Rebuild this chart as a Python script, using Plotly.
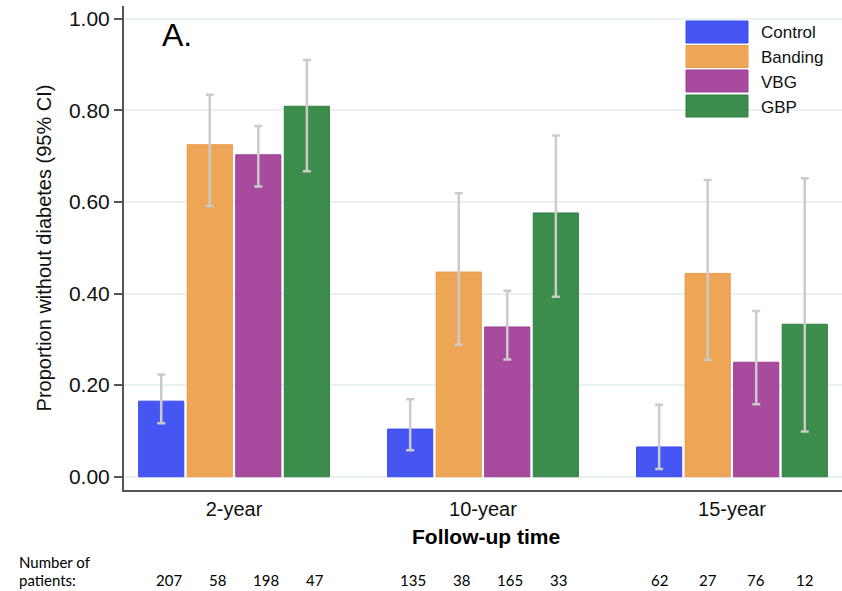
import plotly.graph_objects as go

# Follow-up periods and surgical groups
periods = ["2-year", "10-year", "15-year"]
groups = ["Control", "Banding", "VBG", "GBP"]

# Proportion without diabetes per group, one list per group across periods
control = [0.165, 0.104, 0.065]
banding = [0.725, 0.447, 0.444]
vbg = [0.703, 0.327, 0.250]
gbp = [0.809, 0.576, 0.333]

# 95% CI bounds
control_lo = [0.117, 0.058, 0.017]
control_hi = [0.223, 0.169, 0.157]
banding_lo = [0.591, 0.288, 0.255]
banding_hi = [0.834, 0.619, 0.648]
vbg_lo = [0.634, 0.256, 0.158]
vbg_hi = [0.766, 0.406, 0.362]
gbp_lo = [0.667, 0.393, 0.099]
gbp_hi = [0.910, 0.745, 0.652]

# Number of patients per group and period
control_n = [207, 135, 62]
banding_n = [58, 38, 27]
vbg_n = [198, 165, 76]
gbp_n = [47, 33, 12]

values = [control, banding, vbg, gbp]
lows = [control_lo, banding_lo, vbg_lo, gbp_lo]
highs = [control_hi, banding_hi, vbg_hi, gbp_hi]
counts = [control_n, banding_n, vbg_n, gbp_n]

fills = ["#4656f2", "#eea555", "#a84a9e", "#3c8c4b"]
edges = ["#3a4cee", "#e89c4c", "#9a3f92", "#2f8240"]

W, H = 842, 591
L, R, T, B = 124, 0, 6, 101
YMIN, YMAX = -0.029, 1.028
BARGAP, GROUPGAP = 0.22, 0.07

fig = go.Figure()
for name, vals, lo, hi, fc, ec in zip(groups, values, lows, highs, fills, edges):
    fig.add_trace(go.Bar(
        x=periods, y=vals, name=name,
        marker=dict(color=fc, line=dict(color=ec, width=1)),
        error_y=dict(type="data", symmetric=False,
                     array=[h - v for h, v in zip(hi, vals)],
                     arrayminus=[v - l for l, v in zip(lo, vals)],
                     color="#cbcbcb", thickness=2.5, width=4),
        showlegend=False,
    ))

def px_to_paper_x(px):
    return (px - L) / (W - L - R)

def px_to_paper_y(py):
    return (H - B - py) / (H - T - B)

annotations = []
shapes = []

# Panel label
annotations.append(dict(text="A.", xref="paper", yref="paper",
                        x=px_to_paper_x(160), y=px_to_paper_y(35),
                        xanchor="left", yanchor="middle", showarrow=False,
                        font=dict(family="Liberation Sans, Arial", size=32, color="#000")))

# Legend with wide colour swatches
sw_x0, sw_x1 = 686, 748
row_top = [21, 45.5, 70, 95]
for name, fc, ec, top in zip(groups, fills, edges, row_top):
    shapes.append(dict(type="rect", xref="paper", yref="paper",
                       x0=px_to_paper_x(sw_x0), x1=px_to_paper_x(sw_x1),
                       y0=px_to_paper_y(top), y1=px_to_paper_y(top + 22),
                       fillcolor=fc, line=dict(color=ec, width=1)))
    annotations.append(dict(text=name, xref="paper", yref="paper",
                            x=px_to_paper_x(759), y=px_to_paper_y(top + 12),
                            xanchor="left", yanchor="middle", showarrow=False,
                            font=dict(family="Liberation Sans, Arial", size=17, color="#111")))

# Axis title under the period labels
annotations.append(dict(text="<b>Follow-up time</b>", xref="paper", yref="paper",
                        x=px_to_paper_x(486), y=px_to_paper_y(536),
                        xanchor="center", yanchor="middle", showarrow=False,
                        font=dict(family="Liberation Sans, Arial", size=21, color="#000")))

# Patient count row
slot = (1 - BARGAP) / len(groups)
cnt_font = dict(family="Lato, Open Sans", size=15, color="#000")
count_shift = [8, 3, 0]
annotations.append(dict(text="Number of", xref="paper", yref="paper",
                        x=px_to_paper_x(17), y=px_to_paper_y(562),
                        xanchor="left", yanchor="middle", showarrow=False, font=cnt_font))
annotations.append(dict(text="patients:", xref="paper", yref="paper",
                        x=px_to_paper_x(17), y=px_to_paper_y(580),
                        xanchor="left", yanchor="middle", showarrow=False, font=cnt_font))
for gi, ns in enumerate(counts):
    for pi, n in enumerate(ns):
        annotations.append(dict(text=str(n), xref="x", yref="paper",
                                x=pi + (gi - (len(groups) - 1) / 2) * slot,
                                xshift=count_shift[pi],
                                y=px_to_paper_y(580),
                                xanchor="center", yanchor="middle", showarrow=False,
                                font=cnt_font))

fig.update_layout(
    width=W, height=H,
    margin=dict(l=L, r=R, t=T, b=B, pad=0),
    paper_bgcolor="white", plot_bgcolor="white",
    barmode="group", bargap=BARGAP, bargroupgap=GROUPGAP,
    font=dict(family="Liberation Sans, Arial", color="#111"),
    annotations=annotations, shapes=shapes,
)
fig.update_xaxes(
    type="category", range=[-0.442, 2.442],
    showline=True, linecolor="#555", linewidth=2,
    ticks="", showgrid=False, zeroline=False,
    tickfont=dict(size=20, color="#111"),
)
fig.update_yaxes(
    range=[YMIN, YMAX],
    tickvals=[0, 0.2, 0.4, 0.6, 0.8, 1.0], tickformat=".2f",
    showline=True, linecolor="#555", linewidth=2,
    ticks="outside", ticklen=8, tickwidth=1.5, tickcolor="#555",
    showgrid=True, gridcolor="#eaf1f1", gridwidth=2, zeroline=False,
    tickfont=dict(size=21, color="#111"),
    title=dict(text="Proportion without diabetes (95% CI)",
               font=dict(size=20, color="#111"), standoff=12),
)

fig.write_html("out.html")
